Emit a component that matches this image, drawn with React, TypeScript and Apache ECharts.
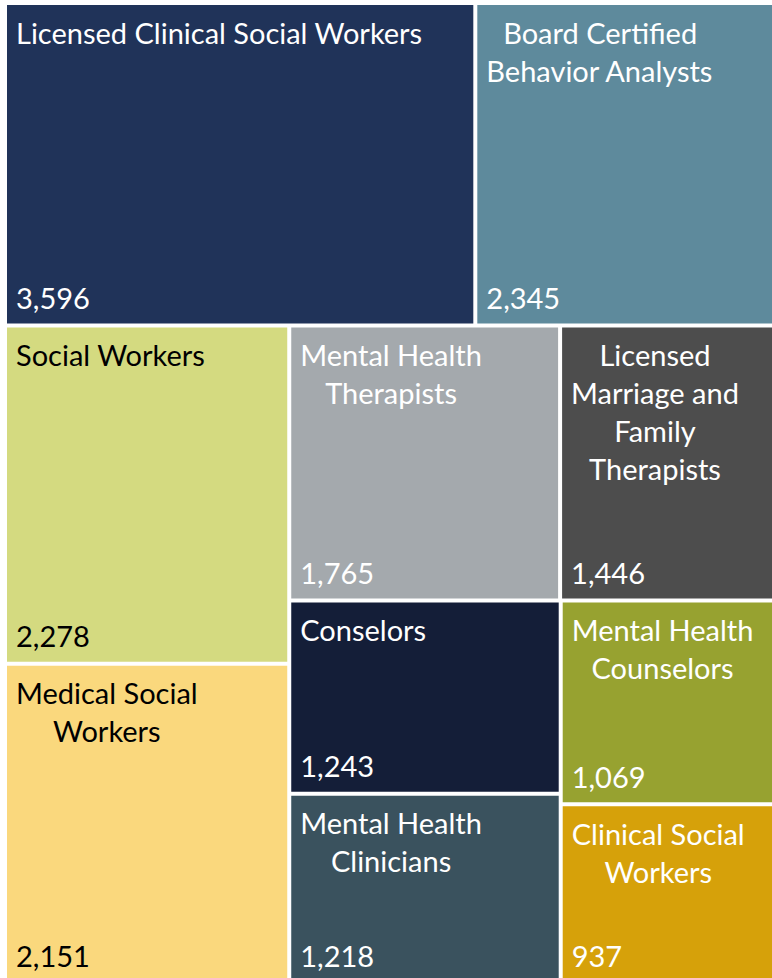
import React, { useEffect, useRef } from "react";
import * as echarts from "echarts";

// ---- data ----
const names = [
  "Licensed Clinical Social Workers",
  "Board Certified\nBehavior Analysts",
  "Social Workers",
  "Mental Health\nTherapists",
  "Licensed\nMarriage and\nFamily\nTherapists",
  "Medical Social\nWorkers",
  "Conselors",
  "Mental Health\nClinicians",
  "Mental Health\nCounselors",
  "Clinical Social\nWorkers",
];
const values = [3596, 2345, 2278, 1765, 1446, 2151, 1243, 1218, 1069, 937];
const colors = [
  "#203359",
  "#5E8A9C",
  "#D4DA80",
  "#A4A9AD",
  "#4D4D4D",
  "#FAD87D",
  "#141E38",
  "#3A525E",
  "#97A230",
  "#D6A10A",
];
const textColors = ["#ffffff", "#ffffff", "#000000", "#ffffff", "#ffffff", "#000000", "#ffffff", "#ffffff", "#ffffff", "#ffffff"];

const FONT = "Lato";
const FS = 29;
const LH = 38;

function buildOption() {
  const canvas = document.createElement("canvas");
  const ctx = canvas.getContext("2d") as CanvasRenderingContext2D;
  ctx.font = `${FS}px ${FONT}`;

  const nameData = names.map((n, i) => {
    const lines = n.split("\n");
    const widths = lines.map((l) => ctx.measureText(l).width);
    const maxW = Math.max(...widths);
    const rich: Record<string, any> = {};
    const parts = lines.map((l, j) => {
      rich["l" + j] = {
        color: textColors[i],
        fontSize: FS,
        fontFamily: FONT,
        lineHeight: LH,
        padding: [0, 0, 0, Math.max(0, (maxW - widths[j]) / 2)],
      };
      return `{l${j}|${l}}`;
    });
    return {
      name: n.replace(/\n/g, " "),
      value: values[i],
      itemStyle: { color: colors[i] },
      label: { formatter: parts.join("\n"), rich },
    };
  });

  const valueData = names.map((n, i) => ({
    name: n.replace(/\n/g, " "),
    value: values[i],
    itemStyle: { color: "transparent", borderColor: "transparent" },
    label: { color: textColors[i] },
  }));

  const box = { left: 7, top: 5, width: 773, height: 976 };
  const common = {
    type: "treemap",
    ...box,
    roam: false,
    nodeClick: false,
    breadcrumb: { show: false },
    squareRatio: 1,
    sort: "desc",
    leafDepth: 1,
  };

  return {
    animation: false,
    backgroundColor: "#ffffff",
    tooltip: { show: false },
    series: [
      {
        ...common,
        itemStyle: { gapWidth: 4, borderWidth: 0, borderColor: "#ffffff" },
        label: {
          show: true,
          position: "insideTopLeft",
          distance: 0,
          padding: [8, 4, 0, 9],
          fontFamily: FONT,
          fontSize: FS,
          lineHeight: LH,
        },
        data: nameData,
      },
      {
        ...common,
        silent: true,
        color: ["transparent"],
        itemStyle: { gapWidth: 4, borderWidth: 0, borderColor: "transparent", color: "transparent" },
        label: {
          show: true,
          position: "insideBottomLeft",
          distance: 0,
          padding: [0, 4, 7, 9],
          fontFamily: FONT,
          fontSize: FS,
          lineHeight: LH,
          formatter: (p: any) => Number(p.value).toLocaleString("en-US"),
        },
        data: valueData,
      },
    ],
  };
}

export default function App() {
  const ref = useRef<HTMLDivElement>(null);
  useEffect(() => {
    if (!ref.current) return;
    const chart = echarts.init(ref.current, undefined, { renderer: "svg" });
    chart.setOption(buildOption() as any);
    return () => chart.dispose();
  }, []);
  return (
    <div
      ref={ref}
      style={{ position: "absolute", left: 0, top: 0, width: 772, height: 978, background: "#fff" }}
    />
  );
}
